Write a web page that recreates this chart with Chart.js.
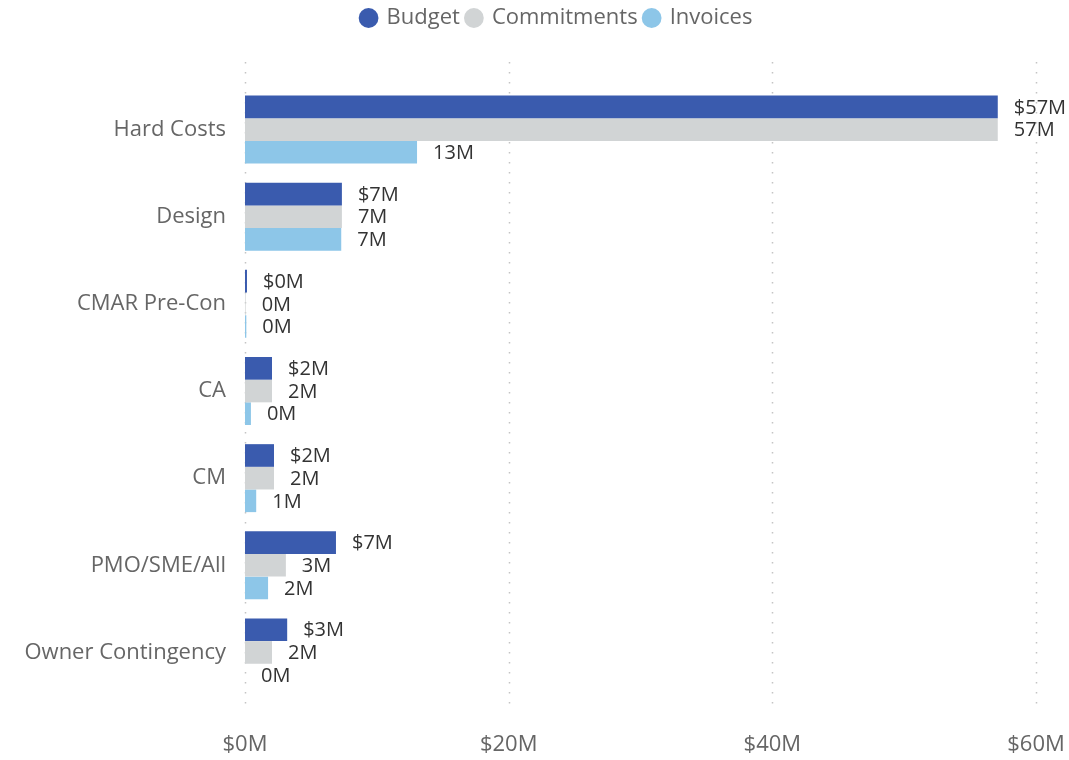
<!DOCTYPE html>
<html>
<head>
<meta charset="utf-8">
<script src="https://cdn.jsdelivr.net/npm/chart.js@4.4.0/dist/chart.umd.min.js"></script>
<style>
html,body{margin:0;padding:0;background:#fff;}
#wrap{width:1069px;height:760px;position:relative;}
</style>
</head>
<body>
<div id="wrap"><canvas id="c" width="1069" height="760"></canvas></div>
<script>
const categories = ["Hard Costs","Design","CMAR Pre-Con","CA","CM","PMO/SME/All","Owner Contingency"];
const budget      = [57.1, 7.35, 0.15, 2.05, 2.2, 6.9, 3.2];
const commitments = [57.1, 7.35, 0.05, 2.05, 2.2, 3.1, 2.05];
const invoices    = [13.05, 7.3, 0.1, 0.45, 0.85, 1.75, 0];
const xTicks = [0, 20, 40, 60];

const FONT = "'Open Sans', 'Noto Sans', sans-serif";

const legendSpace = {
  id: 'legendSpace',
  beforeInit(chart) {
    const fit = chart.legend.fit;
    chart.legend.fit = function () { fit.bind(chart.legend)(); this.height = 86; };
  },
  afterLayout(chart) {
    chart.legend.left += 24;
    chart.legend.right += 24;
  }
};

const dottedGrid = {
  id: 'dottedGrid',
  beforeDatasetsDraw(chart) {
    const {ctx, chartArea, scales} = chart;
    ctx.save();
    ctx.strokeStyle = '#c4c4c4';
    ctx.lineWidth = 1.5;
    ctx.setLineDash([1.5, 8.5]);
    xTicks.forEach(v => {
      const x = Math.round(scales.x.getPixelForValue(v)) + 0.5;
      ctx.beginPath();
      ctx.moveTo(x, chartArea.top - 24);
      ctx.lineTo(x, chartArea.bottom + 12);
      ctx.stroke();
    });
    ctx.restore();
  }
};

const valueLabels = {
  id: 'valueLabels',
  afterDatasetsDraw(chart) {
    const ctx = chart.ctx;
    ctx.save();
    ctx.font = "20px " + FONT;
    ctx.fillStyle = '#333333';
    ctx.textBaseline = 'middle';
    ctx.textAlign = 'left';
    chart.data.datasets.forEach((ds, di) => {
      const meta = chart.getDatasetMeta(di);
      meta.data.forEach((bar, i) => {
        const v = ds.data[i];
        const txt = (di === 0 ? '$' : '') + Math.round(v) + 'M';
        ctx.fillText(txt, bar.x + 16, bar.y + 1);
      });
    });
    ctx.restore();
  }
};

new Chart(document.getElementById('c'), {
  type: 'bar',
  data: {
    labels: categories,
    datasets: [
      {label: 'Budget', data: budget, backgroundColor: '#3A5BAE'},
      {label: 'Commitments', data: commitments, backgroundColor: '#D1D4D5'},
      {label: 'Invoices', data: invoices, backgroundColor: '#8DC6E8'}
    ]
  },
  options: {
    indexAxis: 'y',
    responsive: false,
    animation: false,
    categoryPercentage: 0.78,
    barPercentage: 1.0,
    layout: {padding: {top: 0, right: 3, bottom: 3, left: 0}},
    plugins: {
      legend: {
        position: 'top',
        align: 'center',
        labels: {
          usePointStyle: true,
          pointStyle: 'circle',
          boxWidth: 14,
          boxHeight: 14,
          padding: 7,
          color: '#666666',
          font: {family: FONT, size: 22}
        }
      },
      tooltip: {enabled: false}
    },
    scales: {
      x: {
        min: 0, max: 60,
        afterBuildTicks(s) { s.ticks = xTicks.map(v => ({value: v})); },
        afterFit(s) { s.height = 61; s.paddingRight = 33; s.paddingLeft = 0; },
        grid: {display: false, drawTicks: false},
        border: {display: false},
        ticks: {
          padding: 36,
          color: '#666666',
          font: {family: FONT, size: 22},
          callback: v => '$' + v + 'M'
        }
      },
      y: {
        afterFit(s) { s.width = 245; },
        grid: {display: false, drawTicks: false},
        border: {display: false},
        ticks: {
          padding: 19,
          color: '#666666',
          font: {family: FONT, size: 22}
        }
      }
    }
  },
  plugins: [legendSpace, dottedGrid, valueLabels]
});
</script>
</body>
</html>
